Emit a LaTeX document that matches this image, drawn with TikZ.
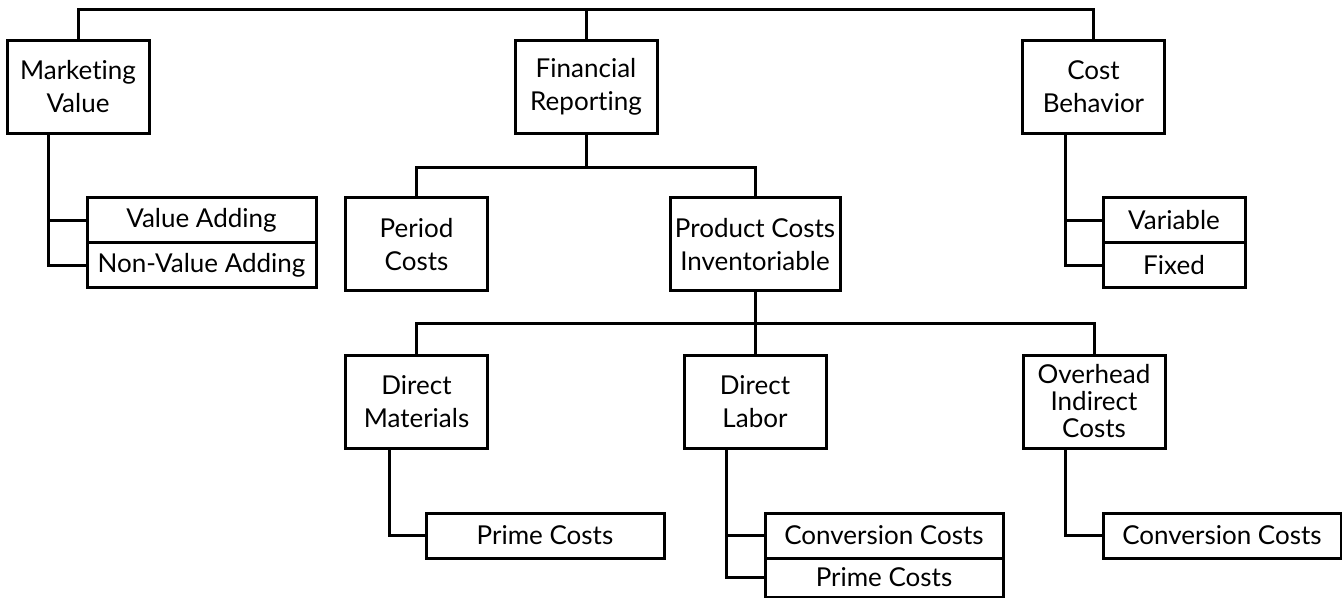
\documentclass[tikz,border=0pt]{standalone}
\usepackage{fontspec}
\setmainfont{Lato}[Ligatures=NoCommon]
\usetikzlibrary{positioning}
\tikzset{ln/.style={line width=1.5pt}}
\tikzset{bx/.style={draw,ln,inner sep=0pt,align=center,minimum width=71pt,minimum height=46.5pt,font=\fontsize{13}{16.5}\selectfont}}
\tikzset{lf/.style={bx,minimum width=119pt,minimum height=22.5pt}}

\begin{document}
\begin{tikzpicture}[x=0.5pt,y=-0.5pt]
\useasboundingbox (0,0) rectangle (1342,598);

\node[bx] (mkt) at (78,87) {Marketing\\Value};
\node[bx] (fin) at (586,87) {Financial\\Reporting};
\node[bx] (cost) at (1093.5,87) {Cost\\Behavior};

\node[lf,minimum width=114.5pt] (va) at (201.5,220.5) {Value Adding};
\node[lf,minimum width=114.5pt] (nva) at (201.5,265.5) {Non-Value Adding};
\node[lf,minimum width=71pt] (var) at (1174,220.5) {Variable};
\node[lf,minimum width=71pt] (fix) at (1174,265.5) {Fixed};

\node[bx] (per) at (416.5,244.5) {Period\\Costs};
\node[bx,minimum width=85pt] (prod) at (755,244.5) {Product Costs\\Inventoriable};

\node[bx] (dm) at (416.5,401.5) {Direct\\Materials};
\node[bx] (dl) at (755,401.5) {Direct\\Labor};
\node[bx,font=\fontsize{13}{13.5}\selectfont] (ovh) at (1094,401.5) {Overhead\\Indirect\\Costs};

\node[lf] (pc1) at (545,535.5) {Prime Costs};
\node[lf] (cc1) at (884,535.5) {Conversion Costs};
\node[lf,minimum height=19.5pt] (pc2) at (884,577.5) {Prime Costs};
\node[lf] (cc2) at (1222,535.5) {Conversion Costs};

\coordinate (top) at (586,10);
\coordinate (mid) at (586,168);
\coordinate (low) at (755,324);

\draw[ln] (mkt.north) |- (top) -| (cost.north);
\draw[ln] (fin.north) -- (top);
\draw[ln] (fin.south) -- (mid);
\draw[ln] (per.north) |- (mid) -| (prod.north);
\draw[ln] (prod.south) -- (low);
\draw[ln] (dm.north) |- (low) -| (ovh.north);
\draw[ln] (dl.north) -- (low);

% side stems
\draw[ln] ([xshift=21.5pt]mkt.south west) |- (va.west);
\draw[ln] ([xshift=21.5pt]mkt.south west) |- (nva.west);
\draw[ln] ([xshift=22pt]cost.south west) |- (var.west);
\draw[ln] ([xshift=22pt]cost.south west) |- (fix.west);
\draw[ln] ([xshift=22.5pt]dm.south west) |- (pc1.west);
\draw[ln] ([xshift=22pt]dl.south west) |- (cc1.west);
\draw[ln] ([xshift=22pt]dl.south west) |- (pc2.west);
\draw[ln] ([xshift=22pt]ovh.south west) |- (cc2.west);
\end{tikzpicture}
\end{document}
